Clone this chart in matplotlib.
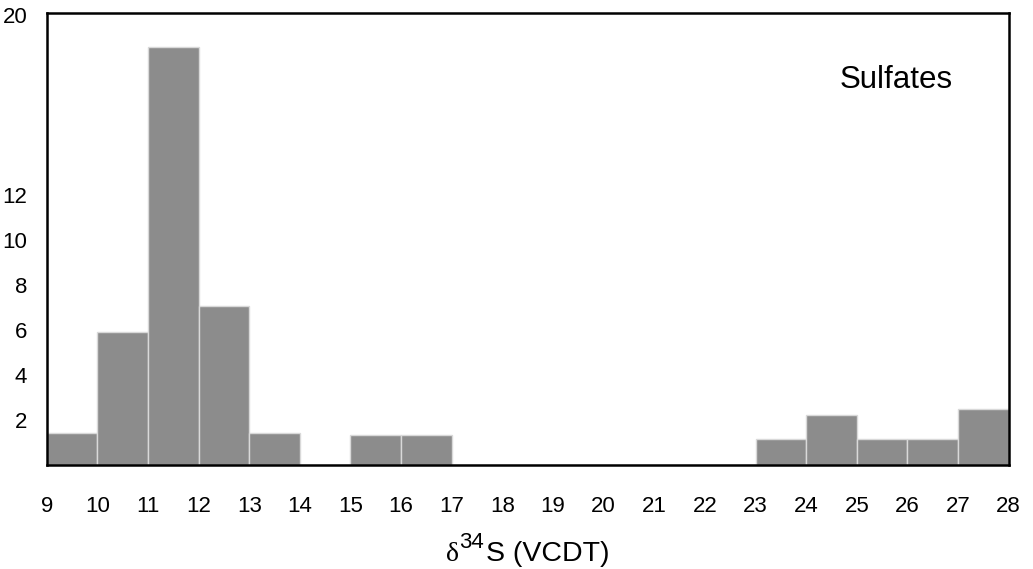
import matplotlib
matplotlib.use("Agg")
import matplotlib.pyplot as plt

# Data
bin_edges = list(range(9, 29))  # 9..28
counts = [1.41, 5.92, 18.55, 7.07, 1.41, 0, 1.33, 1.33, 0, 0, 0, 0, 0, 0,
          1.14, 2.22, 1.14, 1.14, 2.5]
x_ticks = list(range(9, 29))
y_ticks = [2, 4, 6, 8, 10, 12, 20]
label_text = "Sulfates"

plt.rcParams['font.family'] = ['Liberation Sans', 'DejaVu Sans']

fig = plt.figure(figsize=(10.33, 5.69), dpi=100)
ax = fig.add_axes([0.0452, 0.1828, 0.9313, 0.7935])

lefts = bin_edges[:-1]
ax.bar(lefts, counts, width=1.0, align='edge', color='#8c8c8c',
       edgecolor='#d9d9d9', linewidth=1.0, zorder=2)

ax.set_xlim(9, 28)
ax.set_ylim(0, 20.05)
ax.set_xticks(x_ticks)
ax.set_xticklabels([str(v) for v in x_ticks])
ax.set_yticks(y_ticks)
ax.set_yticklabels([str(v) for v in y_ticks])
ax.tick_params(axis='x', length=0, pad=22, labelsize=16)
ax.tick_params(axis='y', length=0, pad=14, labelsize=16)

for s in ax.spines.values():
    s.set_linewidth(1.8)
    s.set_color('black')

ax.text(0.883, 0.853, label_text, transform=ax.transAxes, ha='center',
        va='center', fontsize=22.5)

# x-axis label built from pieces: serif delta, large superscript, sans text
renderer = fig.canvas.get_renderer()
ax_bbox = ax.get_window_extent(renderer)
W, H = ax_bbox.width, ax_bbox.height
base_y = -96.0 / H
x0 = (446 - ax_bbox.x0) / W
t1 = ax.text(x0, base_y, '\u03b4', transform=ax.transAxes, ha='left',
             va='baseline', fontsize=20, family='Liberation Serif')
w1 = t1.get_window_extent(renderer).width / W
t2 = ax.text(x0 + w1, base_y + 13.0 / H, '34', transform=ax.transAxes,
             ha='left', va='baseline', fontsize=16)
w2 = t2.get_window_extent(renderer).width / W
ax.text(x0 + w1 + w2 + 2.0 / W, base_y, 'S (VCDT)', transform=ax.transAxes,
        ha='left', va='baseline', fontsize=20.5)

fig.savefig("out.png", dpi=100)
